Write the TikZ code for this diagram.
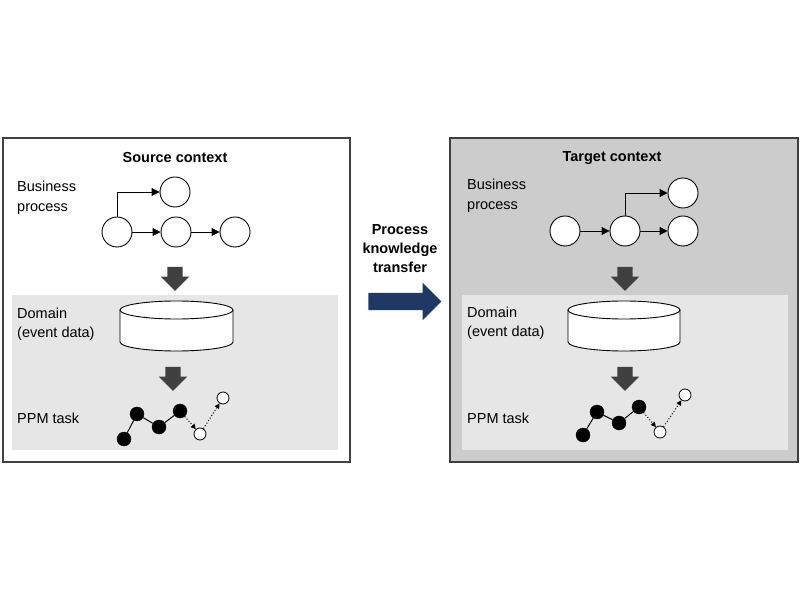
\documentclass[tikz,border=0pt]{standalone}
\usepackage{fontspec}
\setmainfont{Liberation Sans}
\usetikzlibrary{arrows.meta,shapes.arrows}

\definecolor{framegray}{RGB}{64,64,64}
\definecolor{targetgray}{RGB}{204,204,204}
\definecolor{panelgray}{RGB}{230,230,230}
\definecolor{arrowgray}{RGB}{64,64,64}
\definecolor{transferblue}{RGB}{31,56,100}

\tikzset{
  txt/.style={font=\fontsize{14.5}{19.5}\selectfont, align=left, inner sep=0pt},
  title/.style={font=\fontsize{14.5}{19}\selectfont\bfseries, align=center, inner sep=0pt},
  activity/.style={circle, draw=black, fill=white, line width=0.9pt, minimum size=30pt, inner sep=0pt},
  flow/.style={line width=0.9pt, -{Triangle[length=8pt,width=8pt]}},
  event/.style={circle, fill=black, draw=black, minimum size=14pt, inner sep=0pt},
  predicted/.style={circle, fill=white, draw=black, line width=0.8pt, minimum size=12pt, inner sep=0pt},
  seq/.style={line width=1pt},
  pred/.style={line width=1pt, dotted, -{Triangle[length=5pt,width=5pt]}},
  downarrow/.style={single arrow, fill=arrowgray, draw=none, rotate=-90,
    text height=0pt, text depth=0pt, inner xsep=0pt, inner ysep=7.5pt,
    single arrow head extend=6.5pt, minimum height=24pt},
  cyl/.style={draw=black, fill=white, line width=0.9pt}
}

\begin{document}
\begin{tikzpicture}[x=1pt, y=1pt]
    \useasboundingbox[fill=white] (0,0) rectangle (800,600);

    % frames
    \draw[framegray, line width=1.3pt] (3,138) rectangle (350,462);
    \fill[panelgray] (12,150) rectangle (338,305);
    \draw[framegray, line width=1.3pt, fill=targetgray] (450,138) rectangle (798,462);
    \fill[panelgray] (462,150) rectangle (788,305);

    % source context
    \node[title] (stitle) at (175,442) {Source context};
    \node[txt, anchor=west] (sbp) at (17,402) {Business\\process};
    \node[activity] (s1) at (117,368) {};
    \node[activity] (s2) at (176,368) {};
    \node[activity] (s3) at (235,368) {};
    \node[activity] (s4) at (175,408) {};
    \draw[flow] (s1) -- (s2);
    \draw[flow] (s2) -- (s3);
    \draw[flow] (s1.north) |- (s4);
    \node[downarrow] (sarr1) at (175,325) {};
    \node[txt, anchor=west] (sdom) at (17,276) {Domain\\(event data)};
    \fill[white] (120,290) -- (120,258) arc[start angle=180, end angle=360, x radius=56.5, y radius=9] -- (233,290) -- cycle;
    \draw[cyl] (120,290) -- (120,258) arc[start angle=180, end angle=360, x radius=56.5, y radius=9] -- (233,290);
    \draw[cyl] (176.5,290) ellipse[x radius=56.5, y radius=9];
    \node[downarrow] (sarr2) at (173,225) {};
    \node[txt, anchor=west] (sppm) at (17,182) {PPM task};
    \node[event] (se1) at (124,161) {};
    \node[event] (se2) at (137,186) {};
    \node[event] (se3) at (159,173) {};
    \node[event] (se4) at (180,189) {};
    \node[predicted] (sp1) at (200,166) {};
    \node[predicted] (sp2) at (223,202) {};
    \draw[seq] (se1) -- (se2) -- (se3) -- (se4);
    \draw[pred] (se4) -- (sp1);
    \draw[pred] (sp1) -- (sp2);

    % transfer
    \node[title] (ktitle) at (400,351) {Process\\knowledge\\transfer};
    \node[single arrow, fill=transferblue, draw=none, text height=0pt, text depth=0pt,
      inner xsep=0pt, inner ysep=8.5pt, single arrow head extend=10pt,
      minimum height=73pt] (karr) at (400.5,298.5) {};

    % target context
    \node[title] (ttitle) at (612,442) {Target context};
    \node[txt, anchor=west] (tbp) at (467,404) {Business\\process};
    \node[activity] (t1) at (565,369) {};
    \node[activity] (t2) at (625,369) {};
    \node[activity] (t3) at (683,369) {};
    \node[activity] (t4) at (683,407) {};
    \draw[flow] (t1) -- (t2);
    \draw[flow] (t2) -- (t3);
    \draw[flow] (t2.north) |- (t4);
    \node[downarrow] (tarr1) at (625,325) {};
    \node[txt, anchor=west] (tdom) at (467,277) {Domain\\(event data)};
    \fill[white] (568,290) -- (568,258) arc[start angle=180, end angle=360, x radius=56, y radius=9] -- (680,290) -- cycle;
    \draw[cyl] (568,290) -- (568,258) arc[start angle=180, end angle=360, x radius=56, y radius=9] -- (680,290);
    \draw[cyl] (624,290) ellipse[x radius=56, y radius=9];
    \node[downarrow] (tarr2) at (625,225) {};
    \node[txt, anchor=west] (tppm) at (467,182) {PPM task};
    \node[event] (te1) at (583,165) {};
    \node[event] (te2) at (597,188) {};
    \node[event] (te3) at (619,177) {};
    \node[event] (te4) at (639,193) {};
    \node[predicted] (tp1) at (660,168) {};
    \node[predicted] (tp2) at (685,205) {};
    \draw[seq] (te1) -- (te2) -- (te3) -- (te4);
    \draw[pred] (te4) -- (tp1);
    \draw[pred] (tp1) -- (tp2);
\end{tikzpicture}
\end{document}
